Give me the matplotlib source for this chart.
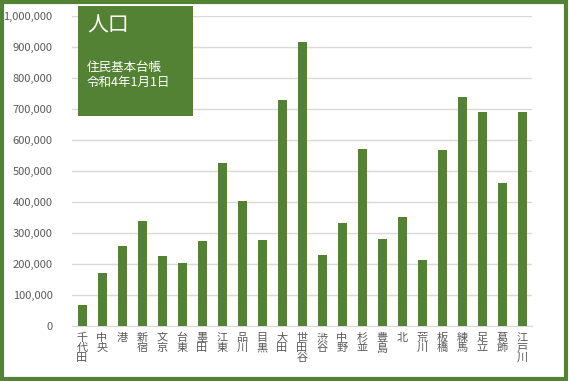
import matplotlib.pyplot as plt
from matplotlib.patches import Rectangle
from matplotlib.ticker import FuncFormatter, MultipleLocator

plt.rcParams['font.family'] = ['Noto Sans CJK JP', 'DejaVu Sans']

wards = ['千代田', '中央', '港', '新宿', '文京', '台東', '墨田', '江東', '品川', '目黒',
         '大田', '世田谷', '渋谷', '中野', '杉並', '豊島', '北', '荒川', '板橋', '練馬',
         '足立', '葛飾', '江戸川']
population = [67000, 171000, 258000, 340000, 227000, 204000, 275000, 525000, 404000, 279000,
              729000, 916000, 229000, 332000, 571000, 282000, 352000, 214000, 568000, 739000,
              690000, 462000, 690000]

title = '人口'
subtitle = '住民基本台帳\n令和4年1月1日'

green = '#548235'
grid_c = '#d9d9d9'
text_c = '#595959'

W, H = 570, 381
fig = plt.figure(figsize=(W / 100, H / 100), dpi=100)
ax = fig.add_axes([72 / W, 1 - 326 / H, 460 / W, 310 / H])

x = range(len(wards))
ax.bar(x, population, width=0.45, color=green, zorder=3)

ax.set_xlim(-0.5, len(wards) - 0.5)
ax.set_ylim(0, 1000000)
ax.yaxis.set_major_locator(MultipleLocator(100000))
ax.yaxis.set_major_formatter(FuncFormatter(lambda v, p: f'{int(v):,}'))
ax.grid(axis='y', color=grid_c, linewidth=1, zorder=0)
ax.set_xticks(list(x))
ax.set_xticklabels(['\n'.join(w) for w in wards], fontsize=8, color=text_c, linespacing=1.0)
ax.tick_params(axis='both', length=0, labelsize=8, colors=text_c)
ax.tick_params(axis='y', pad=14)
ax.tick_params(axis='x', pad=5)
for s in ['top', 'right', 'left']:
    ax.spines[s].set_visible(False)
ax.spines['bottom'].set_color(grid_c)

# title box
fig.patches.append(Rectangle((78 / W, 1 - 116 / H), 115 / W, 110 / H,
                             transform=fig.transFigure, facecolor=green, edgecolor='none', zorder=5))
fig.text(87 / W, 1 - 26 / H, title, fontsize=15, color='white', va='center', ha='left', zorder=6)
fig.text(87 / W, 1 - 75 / H, subtitle, fontsize=9, color='white', va='center', ha='left',
         linespacing=1.25, zorder=6)

# outer border
fig.patches.append(Rectangle((0.003, 0.005), 0.99, 0.99, transform=fig.transFigure,
                             facecolor='none', edgecolor=green, linewidth=3, zorder=10))

fig.savefig('out.png', dpi=100)
